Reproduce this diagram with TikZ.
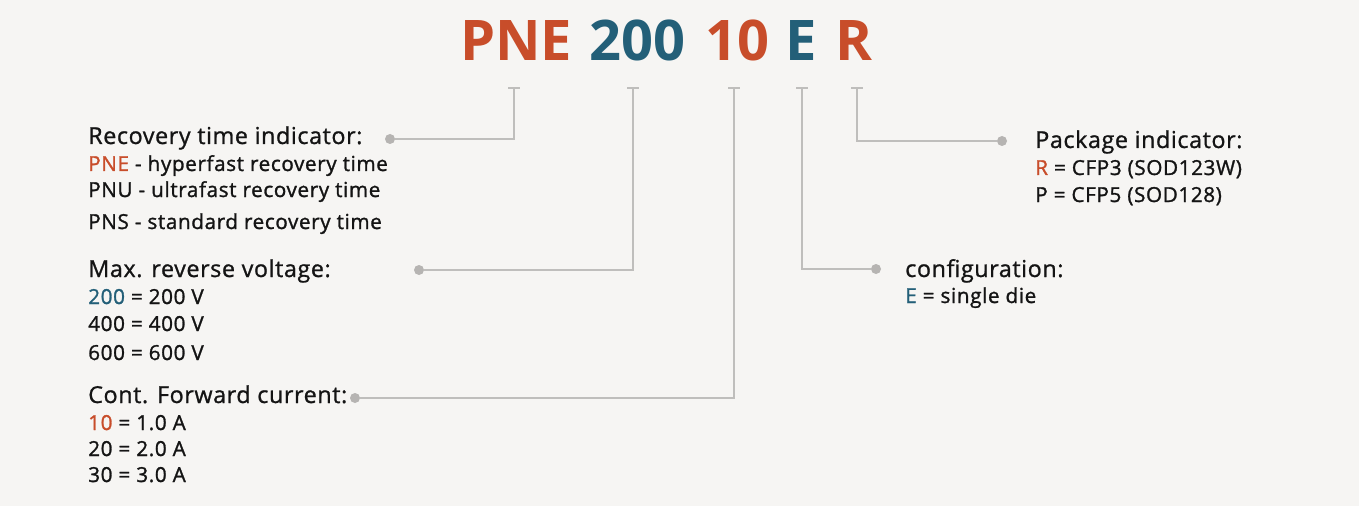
\documentclass[tikz,border=0pt]{standalone}
\usepackage{fontspec}
\setmainfont{Open Sans}
\newfontfamily\headfont[FakeBold=1.0,LetterSpace=2.5]{Open Sans}
\newfontfamily\itemfont[FakeBold=1.3,LetterSpace=3]{Open Sans}
\usetikzlibrary{arrows.meta}
\definecolor{BgClr}{RGB}{246,245,243}
\definecolor{OrangeClr}{RGB}{200,77,42}
\definecolor{BlueClr}{RGB}{35,95,120}
\definecolor{LineClr}{RGB}{191,190,188}
\definecolor{DotClr}{RGB}{182,180,178}
\definecolor{TextClr}{RGB}{20,20,20}

\begin{document}
\begin{tikzpicture}[x=0.75pt,y=-0.75pt,
  code/.style={anchor=base west,inner sep=0pt,font=\fontsize{42}{42}\selectfont\bfseries},
  head/.style={anchor=base west,inner sep=0pt,text=TextClr,font=\headfont\fontsize{17.5}{17.5}\selectfont},
  item/.style={anchor=base west,inner sep=0pt,text=TextClr,font=\itemfont\fontsize{15.5}{15.5}\selectfont},
  dot/.style={circle,fill=DotClr,inner sep=0pt,minimum size=7.5pt},
  lead/.style={draw=LineClr,line width=1.6pt,{Bar[width=9pt,line width=1.6pt]}-}]

\fill[BgClr] (0,0) rectangle (1359,506);

% part number
\node[code,text=OrangeClr] (pne)  at (460,61) {PNE};
\node[code,text=BlueClr]   (volt) at (589,61) {200};
\node[code,text=OrangeClr] (curr) at (705,61) {10};
\node[code,text=BlueClr]   (conf) at (785,61) {E};
\node[code,text=OrangeClr] (pkg)  at (835,61) {R};

% tick points under the code
\coordinate (tPNE)  at (514,87);
\coordinate (tVolt) at (633,87);
\coordinate (tCurr) at (734,87);
\coordinate (tConf) at (802,87);
\coordinate (tPkg)  at (857,87);

% dots
\node[dot] (dPNE)  at (390,139) {};
\node[dot] (dVolt) at (419,270) {};
\node[dot] (dCurr) at (355,398) {};
\node[dot] (dConf) at (876,269) {};
\node[dot] (dPkg)  at (1002,141) {};

\draw[lead] (tPNE)  |- (dPNE);
\draw[lead] (tVolt) |- (dVolt);
\draw[lead] (tCurr) |- (dCurr);
\draw[lead] (tConf) |- (dConf);
\draw[lead] (tPkg)  |- (dPkg);

% recovery time
\node[head] (hRec) at (88,144) {Recovery time indicator:};
\node[item] (r1) at (88,171) {\textcolor{OrangeClr}{PNE} - hyperfast recovery time};
\node[item] (r2) at (88,197) {PNU - ultrafast recovery time};
\node[item] (r3) at (88,229) {PNS - standard recovery time};

% voltage
\node[head] (hVolt) at (88,277) {Max. reverse voltage:};
\node[item] (v1) at (88,304) {\textcolor{BlueClr}{200} = 200 V};
\node[item] (v2) at (88,331) {400 = 400 V};
\node[item] (v3) at (88,360) {600 = 600 V};

% current
\node[head] (hCurr) at (88,403) {Cont. Forward current:};
\node[item] (c1) at (88,430) {\textcolor{OrangeClr}{10} = 1.0 A};
\node[item] (c2) at (88,456) {20 = 2.0 A};
\node[item] (c3) at (88,482) {30 = 3.0 A};

% configuration
\node[head] (hConf) at (905,277) {configuration:};
\node[item] (e1) at (905,303) {\textcolor{BlueClr}{E} = single die};

% package
\node[head] (hPkg) at (1035,148) {Package indicator:};
\node[item] (p1) at (1035,175) {\textcolor{OrangeClr}{R} = CFP3 (SOD123W)};
\node[item] (p2) at (1035,202) {P = CFP5 (SOD128)};

\end{tikzpicture}
\end{document}
